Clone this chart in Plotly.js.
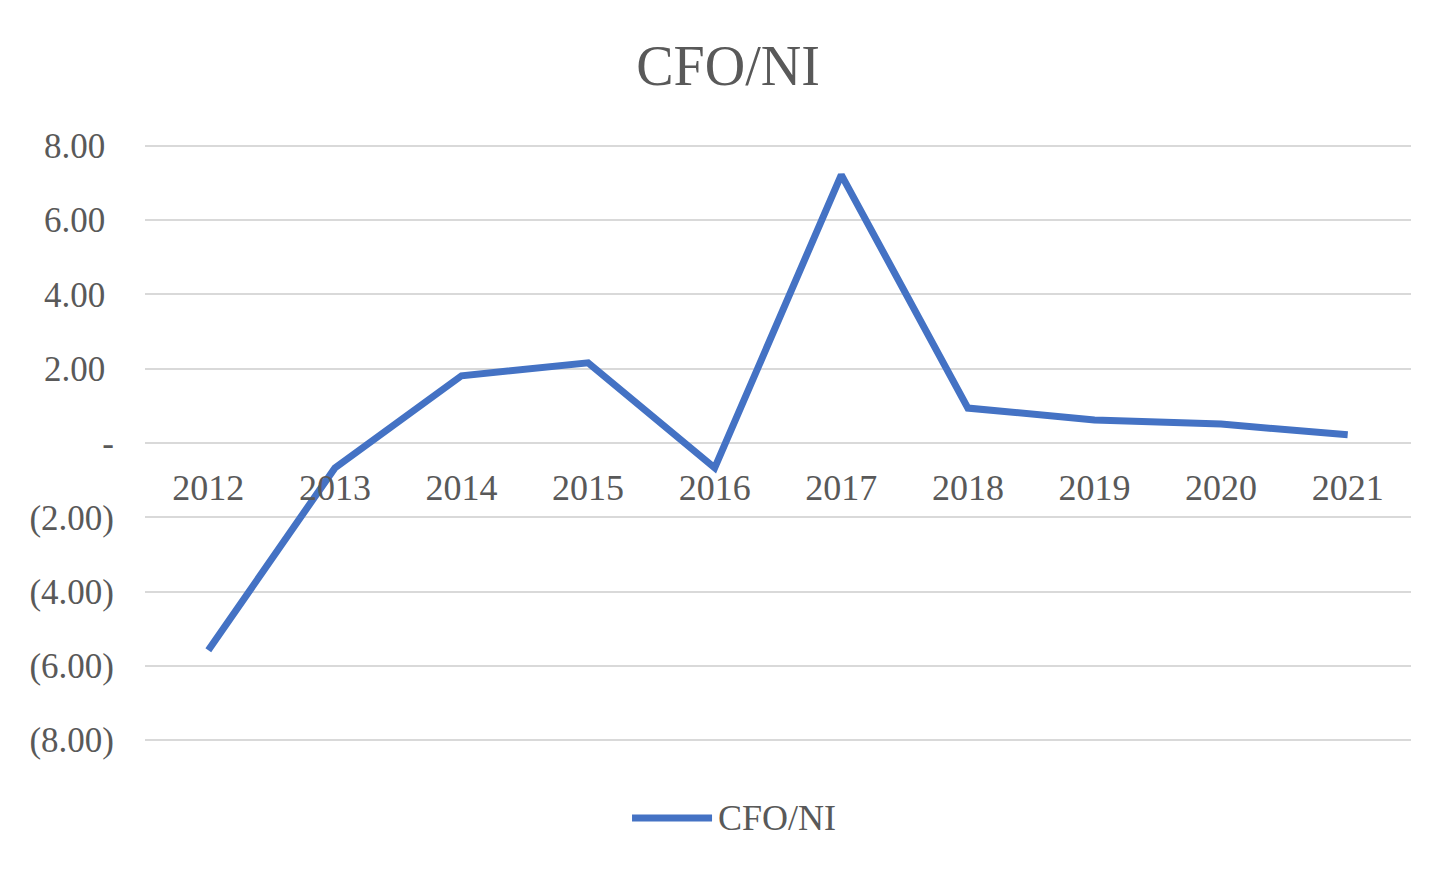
<!DOCTYPE html>
<html><head><meta charset="utf-8">
<script src="https://cdn.plot.ly/plotly-3.0.1.min.js"></script>
<style>html,body{margin:0;padding:0;background:#fff}#chart{width:1456px;height:874px}</style>
</head><body><div id="chart"></div>
<script>
var years = ['2012','2013','2014','2015','2016','2017','2018','2019','2020','2021'];
var cfoNi = [-5.58, -0.67, 1.81, 2.16, -0.67, 7.22, 0.94, 0.62, 0.51, 0.22];
var yTickVals = [8, 6, 4, 2, 0, -2, -4, -6, -8];
var yTickText = ['8.00\u00A0', '6.00\u00A0', '4.00\u00A0', '2.00\u00A0', '-', '(2.00)', '(4.00)', '(6.00)', '(8.00)'];
var seriesName = 'CFO/NI';

var font = 'Liberation Serif, Times New Roman, serif';
var lineColor = '#4472C4';
var trace = {
  x: years, y: cfoNi, type: 'scatter', mode: 'lines', name: seriesName,
  line: {color: lineColor, width: 7}, showlegend: false
};
var layout = {
  width: 1456, height: 874,
  margin: {l: 145, r: 45, t: 144, b: 132},
  paper_bgcolor: '#fff', plot_bgcolor: '#fff',
  title: {text: 'CFO/NI', font: {family: font, size: 56, color: '#595959'}, x: 0.5, xanchor: 'center', y: 0.925, yanchor: 'middle'},
  xaxis: {type: 'category', range: [-0.5, 9.5], anchor: 'free', position: 0.5,
    showgrid: false, showline: false, zeroline: false, ticks: '',
    tickfont: {family: font, size: 36, color: '#595959'}, ticklabelstandoff: 20},
  yaxis: {range: [-8.05, 8.05], tickvals: yTickVals, ticktext: yTickText,
    showgrid: true, gridcolor: '#d9d9d9', gridwidth: 2, zeroline: false, showline: false, ticks: '',
    tickfont: {family: font, size: 35, color: '#595959'}, ticklabelstandoff: 30},
  showlegend: false,
  shapes: [{type: 'line', xref: 'paper', yref: 'paper', x0: 0.3847, x1: 0.4479, y0: -0.127, y1: -0.127,
    line: {color: lineColor, width: 7}}],
  annotations: [{text: seriesName, xref: 'paper', yref: 'paper', x: 0.4510, y: -0.127,
    xanchor: 'left', yanchor: 'middle', showarrow: false,
    font: {family: font, size: 36, color: '#595959'}}],
  hovermode: false
};
Plotly.newPlot('chart', [trace], layout, {displayModeBar: false, staticPlot: true});
</script></body></html>
